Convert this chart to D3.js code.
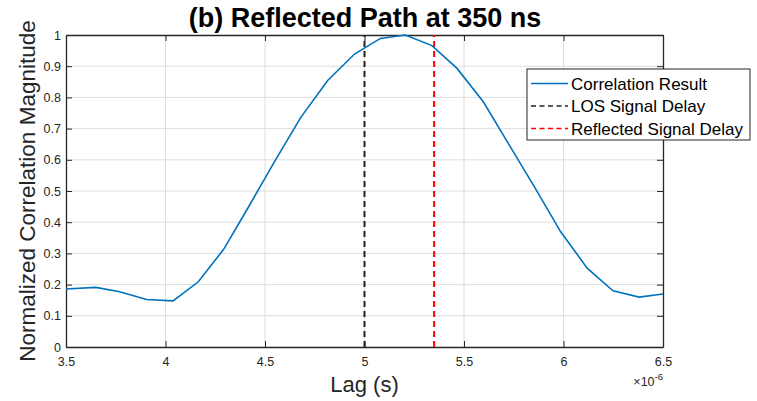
<!DOCTYPE html>
<html>
<head>
<meta charset="utf-8">
<script src="https://cdn.jsdelivr.net/npm/d3@7"></script>
<style>
  body { margin: 0; background: #fff; }
  text { font-family: "Liberation Sans", Arial, sans-serif; }
</style>
</head>
<body>
<div id="chart"></div>
<script>
// lag values in microseconds (axis shows x10^-6)
var lags = [3.5, 3.65, 3.77, 3.905, 4.038, 4.165, 4.293, 4.42, 4.553, 4.68, 4.815, 4.95,
            5.08, 5.205, 5.339, 5.465, 5.597, 5.727, 5.857, 5.985, 6.12, 6.249, 6.38, 6.5];
var corr = [0.186, 0.191, 0.177, 0.152, 0.148, 0.209, 0.314, 0.452, 0.6, 0.736, 0.854, 0.939,
            0.989, 1.0, 0.966, 0.893, 0.786, 0.648, 0.51, 0.37, 0.252, 0.18, 0.16, 0.17];
var losDelay = 5.0;
var reflDelay = 5.35;
var xTicks = [3.5, 4, 4.5, 5, 5.5, 6, 6.5];
var yTicks = [0, 0.1, 0.2, 0.3, 0.4, 0.5, 0.6, 0.7, 0.8, 0.9, 1];
var legendLabels = ['Correlation Result', 'LOS Signal Delay', 'Reflected Signal Delay'];

const w = 757, h = 401;
const m = {top: 35, left: 66, right: 94, bottom: 54};
const axisColor = '#262626';

var svg = d3.select('#chart').append('svg')
            .attr('width', w)
            .attr('height', h);

var x = d3.scaleLinear().domain([3.5, 6.5]).range([m.left, w - m.right]);
var y = d3.scaleLinear().domain([0, 1]).range([h - m.bottom, m.top]);

// grid
svg.append('g').selectAll('line').data(xTicks.slice(1, -1)).enter()
   .append('line')
   .attr('x1', d => x(d)).attr('x2', d => x(d))
   .attr('y1', y(0)).attr('y2', y(1))
   .attr('stroke', '#dedede').attr('stroke-width', 1);
svg.append('g').selectAll('line').data(yTicks.slice(1, -1)).enter()
   .append('line')
   .attr('x1', x(3.5)).attr('x2', x(6.5))
   .attr('y1', d => y(d)).attr('y2', d => y(d))
   .attr('stroke', '#dedede').attr('stroke-width', 1);

// axes (ticks inside, box on)
var xAx = svg.append('g').attr('transform', 'translate(0,' + y(0) + ')')
   .call(d3.axisBottom(x).tickValues(xTicks).tickSizeInner(-6).tickSizeOuter(0).tickPadding(10)
         .tickFormat(d3.format('')));
var xTop = svg.append('g').attr('transform', 'translate(0,' + y(1) + ')')
   .call(d3.axisTop(x).tickValues(xTicks).tickSizeInner(-6).tickSizeOuter(0).tickFormat(''));
var yAx = svg.append('g').attr('transform', 'translate(' + x(3.5) + ',0)')
   .call(d3.axisLeft(y).tickValues(yTicks).tickSizeInner(-6).tickSizeOuter(0).tickPadding(5)
         .tickFormat(d3.format('')));
var yRight = svg.append('g').attr('transform', 'translate(' + x(6.5) + ',0)')
   .call(d3.axisRight(y).tickValues(yTicks).tickSizeInner(-6).tickSizeOuter(0).tickFormat(''));

[xAx, xTop, yAx, yRight].forEach(function(g) {
    g.select('.domain').attr('stroke', axisColor).attr('stroke-width', 1.3);
    g.selectAll('.tick line').attr('stroke', axisColor);
    g.selectAll('.tick text').attr('fill', axisColor)
     .style('font-family', '"Liberation Sans", Arial, sans-serif')
     .style('font-size', '12.5px');
});

// correlation curve
var pts = lags.map((d, i) => [d, corr[i]]);
var line = d3.line().x(d => x(d[0])).y(d => y(d[1]));
svg.append('path')
   .datum(pts)
   .attr('d', line)
   .attr('fill', 'none')
   .attr('stroke', '#0072BD')
   .attr('stroke-width', 1.6);

// delay markers
svg.append('line')
   .attr('x1', x(losDelay)).attr('x2', x(losDelay))
   .attr('y1', y(0)).attr('y2', y(1))
   .attr('stroke', '#222').attr('stroke-width', 2)
   .attr('stroke-dasharray', '6,4');
svg.append('line')
   .attr('x1', x(reflDelay)).attr('x2', x(reflDelay))
   .attr('y1', y(0)).attr('y2', y(1))
   .attr('stroke', '#ff0000').attr('stroke-width', 2)
   .attr('stroke-dasharray', '6,4');

// title and labels
svg.append('text')
   .attr('x', 365).attr('y', 27)
   .attr('text-anchor', 'middle')
   .attr('font-size', 27).attr('font-weight', 'bold')
   .attr('fill', '#000')
   .text('(b) Reflected Path at 350 ns');

svg.append('text')
   .attr('x', (m.left + w - m.right) / 2).attr('y', 392)
   .attr('text-anchor', 'middle')
   .attr('font-size', 22)
   .attr('fill', axisColor)
   .text('Lag (s)');

svg.append('text')
   .attr('transform', 'translate(35,' + ((m.top + h - m.bottom) / 2) + ') rotate(-90)')
   .attr('text-anchor', 'middle')
   .attr('font-size', 22.5)
   .attr('fill', axisColor)
   .text('Normalized Correlation Magnitude');

var expo = svg.append('text')
   .attr('x', x(6.5)).attr('y', 386)
   .attr('text-anchor', 'end')
   .attr('font-size', 12.5)
   .attr('fill', axisColor);
expo.append('tspan').text('\u00d710');
expo.append('tspan').attr('dy', -6).attr('font-size', 9.5).text('-6');

// legend
var lg = svg.append('g').attr('transform', 'translate(527,69)');
lg.append('rect')
  .attr('width', 223).attr('height', 71)
  .attr('fill', '#fff').attr('stroke', '#262626').attr('stroke-width', 1);
var legColors = ['#0072BD', '#222', '#ff0000'];
var legDash = [null, '5,3.5', '5,3.5'];
legendLabels.forEach(function(lab, i) {
    var yy = 14.5 + i * 22.5;
    lg.append('line')
      .attr('x1', 4).attr('x2', 41)
      .attr('y1', yy).attr('y2', yy)
      .attr('stroke', legColors[i])
      .attr('stroke-width', i == 0 ? 1.6 : 1.4)
      .attr('stroke-dasharray', legDash[i]);
    lg.append('text')
      .attr('x', 44).attr('y', yy + 6)
      .attr('font-size', 17)
      .attr('fill', '#000')
      .text(lab);
});
</script>
</body>
</html>
